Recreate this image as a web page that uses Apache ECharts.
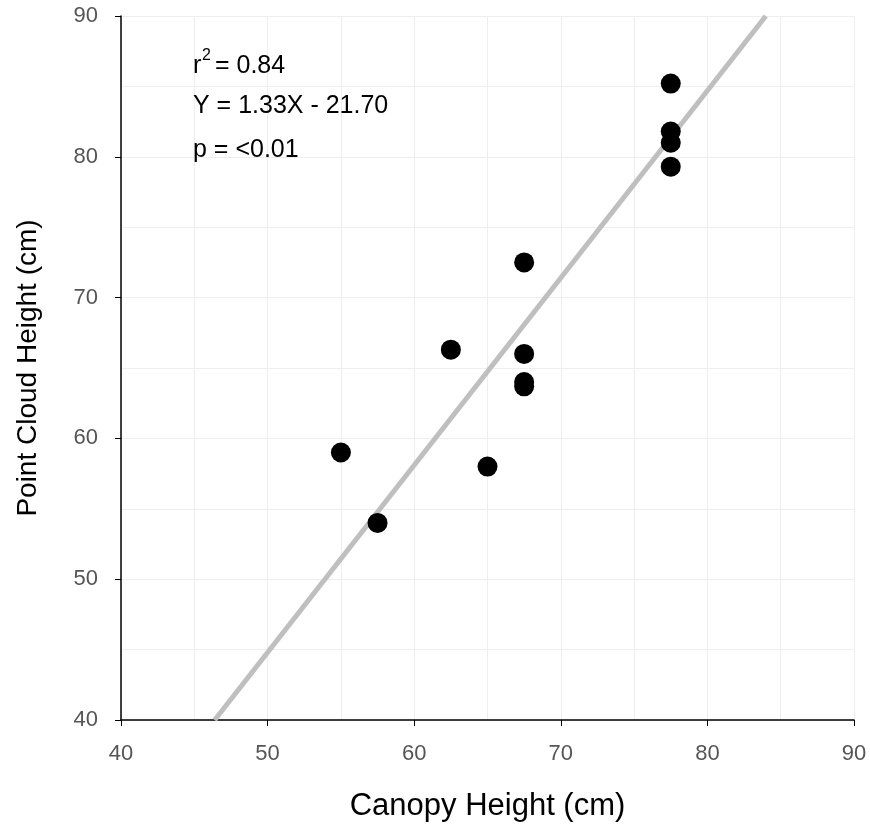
<!DOCTYPE html>
<html>
<head>
<meta charset="utf-8">
<script src="https://cdn.jsdelivr.net/npm/echarts@6/dist/echarts.min.js"></script>
<style>
    html, body { margin: 0; padding: 0; background: #fff; }
    #chart { width: 870px; height: 827px; }
</style>
</head>
<body>
<div id="chart"></div>
<script>
    // canopy height (x) vs point cloud height (y)
    const canopy = [77.5, 77.5, 77.5, 77.5, 67.5, 67.5, 67.5, 67.5, 62.5, 55.0, 65.0, 57.5];
    const pointCloud = [85.2, 81.8, 81.0, 79.3, 72.5, 66.0, 64.0, 63.7, 66.3, 59.0, 58.0, 54.0];
    const slope = 1.33;
    const intercept = -21.70;
    const statLines = ['r', '2', ' = 0.84', 'Y = 1.33X - 21.70', 'p = <0.01'];

    const axisMin = 40, axisMax = 90;
    const fitX0 = (axisMin - intercept) / slope;
    const fitX1 = (axisMax - intercept) / slope;
    const fitLine = [[fitX0, slope * fitX0 + intercept], [fitX1, slope * fitX1 + intercept]];

    let chart = echarts.init(document.getElementById('chart'));
    const font = '"Liberation Sans", Arial, sans-serif';
    const gridColor = '#eeeeee';

    function axis(name, gap, labelMargin, nameSize, rotateName) {
        return {
            type: 'value',
            min: axisMin,
            max: axisMax,
            interval: 10,
            name: name,
            nameLocation: 'middle',
            nameGap: gap,
            nameRotate: rotateName ? 90 : 0,
            nameTextStyle: { fontFamily: font, fontSize: nameSize, color: '#000' },
            axisLine: { show: true, lineStyle: { color: '#000', width: 1.5 } },
            axisTick: { show: true, inside: false, length: 6, lineStyle: { color: '#000' } },
            axisLabel: { margin: labelMargin, fontFamily: font, fontSize: 22, color: '#555' },
            splitLine: { show: true, lineStyle: { color: gridColor, width: 1 } },
            minorTick: { show: false, splitNumber: 2 },
            minorSplitLine: { show: true, lineStyle: { color: gridColor, width: 1 } }
        };
    }

    let option = {
        backgroundColor: '#fff',
        animation: false,
        grid: { left: 121, right: 16, top: 16, bottom: 106, containLabel: false },
        xAxis: axis('Canopy Height (cm)', 71, 23, 31, false),
        yAxis: axis('Point Cloud Height (cm)', 79, 23, 28, true),
        graphic: [
            { type: 'text', x: 193, y: 66, z: 100, style: { text: statLines[0], font: '25px ' + font, fill: '#000', verticalAlign: 'middle' } },
            { type: 'text', x: 202, y: 56, z: 100, style: { text: statLines[1], font: '16px ' + font, fill: '#000', verticalAlign: 'middle' } },
            { type: 'text', x: 208, y: 66, z: 100, style: { text: statLines[2], font: '25px ' + font, fill: '#000', verticalAlign: 'middle' } },
            { type: 'text', x: 193, y: 106, z: 100, style: { text: statLines[3], font: '25px ' + font, fill: '#000', verticalAlign: 'middle' } },
            { type: 'text', x: 193, y: 150, z: 100, style: { text: statLines[4], font: '25px ' + font, fill: '#000', verticalAlign: 'middle' } }
        ],
        series: [
            {
                type: 'line',
                data: fitLine,
                symbol: 'none',
                lineStyle: { color: '#bfbfbf', width: 5 },
                z: 2
            },
            {
                type: 'scatter',
                data: canopy.map((x, i) => [x, pointCloud[i]]),
                symbol: 'circle',
                symbolSize: 20,
                itemStyle: { color: '#000', opacity: 1 },
                z: 3
            }
        ]
    };
    chart.setOption(option);
</script>
</body>
</html>
